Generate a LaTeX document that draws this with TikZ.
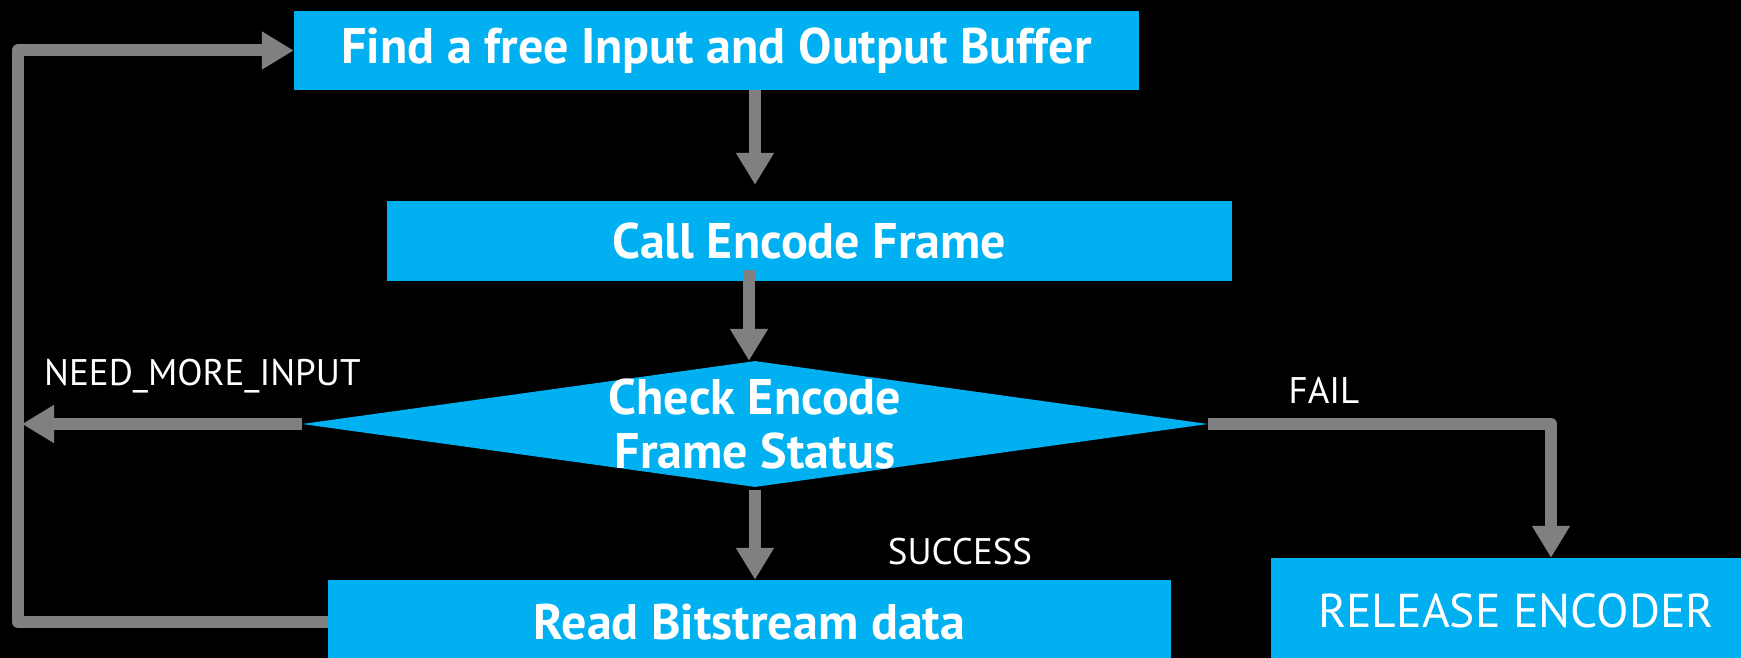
\documentclass[tikz,border=0pt]{standalone}
\usepackage{fontspec}
\setmainfont{PT Sans}
\usetikzlibrary{arrows.meta,shapes.geometric}
\definecolor{nvblue}{HTML}{00B0F0}
\definecolor{argray}{HTML}{808080}
\begin{document}
\begin{tikzpicture}[x=1pt,y=-1pt,
  box/.style={fill=nvblue, draw=none, inner sep=0pt, text=white, font=\bfseries\fontsize{50}{54}\selectfont},
  conn/.style={draw=argray, line width=12pt, line join=round, -{Triangle[width=36pt,length=32pt]}},
  lbl/.style={text=white, inner sep=0pt, font=\fontsize{37}{42}\selectfont}]
\fill[black] (0,0) rectangle (1741,658);
\useasboundingbox (0,0) rectangle (1741,658);
% nodes
\node[box, minimum width=845pt, minimum height=79pt] (b1) at (716.5,50.5) {Find a free Input and Output Buffer};
\node[box, minimum width=845pt, minimum height=80pt] (b2) at (809.5,241) {Call Encode Frame};
\node[diamond, fill=nvblue, draw=none, inner sep=0pt, minimum width=906pt, minimum height=126pt, shape aspect=7.19] (d) at (755,424) {};
\node[box, fill=none, align=center] (dt) at (d.center) {Check Encode\\Frame Status};
\node[box, minimum width=843pt, minimum height=84pt] (b3) at (749.5,622) {Read Bitstream data};
\node[box, minimum width=490pt, minimum height=106pt, font=\fontsize{47.5}{52}\selectfont] (b4) at (1516,611) {RELEASE ENCODER};
% labels
\node[lbl, anchor=west] (lneed) at (44,376) {NEED\_MORE\_INPUT};
\node[lbl] (lfail) at (1324,390) {FAIL};
\node[lbl] (lsucc) at (960,552) {SUCCESS};
% helper coordinates
\coordinate (lx) at (18,0);
\coordinate (rx) at (1551,0);
\coordinate (ltip) at (22,424);
% connectors
\draw[conn] (b1.south -| d.north) -- ([yshift=16pt]b2.north -| d.north);
\draw[conn] ([xshift=-6pt,yshift=11pt]b2.south -| d.north) -- ([xshift=-6pt]d.north);
\draw[conn] ([yshift=-3pt]d.south) -- (b3.north -| d.south);
\draw[conn] (d.west) -- (ltip);
\draw[conn] (d.east) -- (rx |- d.east) -- (rx |- b4.north);
\draw[conn] (b3.west) -- (b3.west -| lx) -- (b1.west -| lx) -- (b1.west);
\end{tikzpicture}
\end{document}
